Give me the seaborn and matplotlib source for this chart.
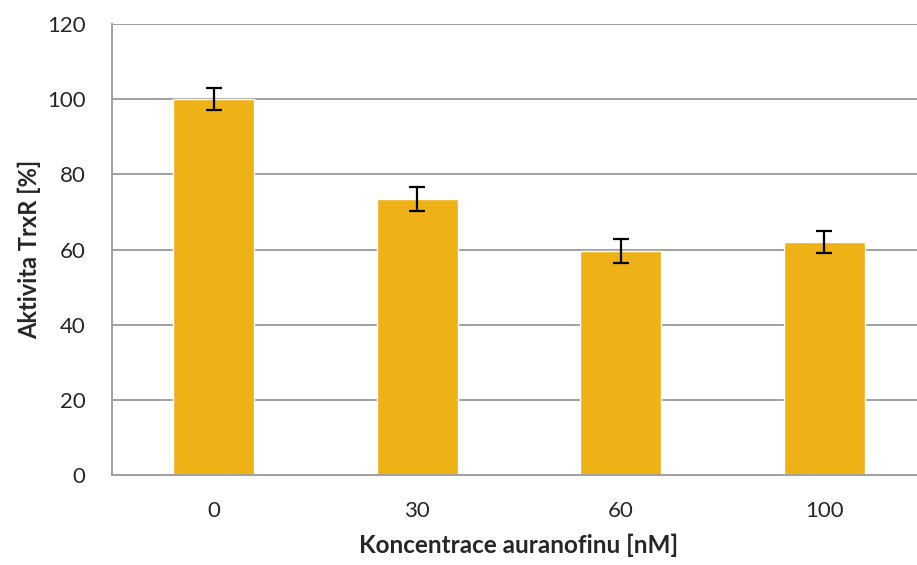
import numpy as np
import pandas as pd
import matplotlib
matplotlib.use("Agg")
import matplotlib.pyplot as plt
import seaborn as sns

# Data
konc = ['0', '30', '60', '100']
aktivita = [100.0, 73.5, 59.6, 62.0]
chyba = [3.0, 3.2, 3.3, 3.0]

df = pd.DataFrame({'konc': konc, 'aktivita': aktivita})

sns.set_style('white')
plt.rcParams['font.family'] = ['Lato', 'DejaVu Sans']

fig = plt.figure(figsize=(9.17, 5.65), dpi=100)
# axes extends past the right edge like in the original
ax = fig.add_axes([112 / 917, 90 / 565, 814 / 917, 451 / 565])

sns.barplot(data=df, x='konc', y='aktivita', color='#EEB116', width=0.4,
            errorbar=None, saturation=1, ax=ax, zorder=2)
ax.errorbar(np.arange(len(konc)), aktivita, yerr=chyba, fmt='none',
            ecolor='black', elinewidth=1.6, capsize=6, capthick=1.6, zorder=3)

ax.set_ylim(0, 120)
ax.set_yticks(range(0, 121, 20))
ax.set_xlim(-0.5, 3.5)
ax.grid(axis='y', color='#A0A0A0', linewidth=1.4, zorder=0)
ax.set_axisbelow(True)

for s in ['top', 'right']:
    ax.spines[s].set_visible(False)
for s in ['left', 'bottom']:
    ax.spines[s].set_color('#A0A0A0')
    ax.spines[s].set_linewidth(1.4)

ax.tick_params(axis='y', length=6, width=1.4, color='#A0A0A0', pad=13, labelsize=16)
ax.tick_params(axis='x', which='major', length=0, pad=19, labelsize=16)
ax.set_xticks(np.arange(-0.5, 4, 1), minor=True)
ax.tick_params(axis='x', which='minor', length=6, width=1.4, color='#A0A0A0')

ax.set_xlabel('Koncentrace auranofinu [nM]', fontsize=17.5, fontweight='bold', labelpad=9)
ax.set_ylabel('Aktivita TrxR [%]', fontsize=17, fontweight='bold', labelpad=4)

fig.savefig('out.png', dpi=100)
